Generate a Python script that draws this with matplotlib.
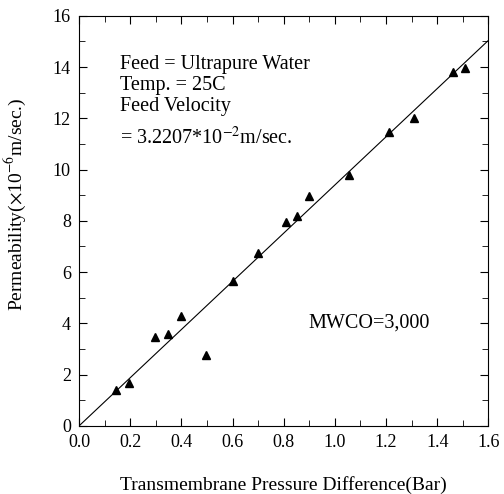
import numpy as np
import matplotlib
matplotlib.use("Agg")
import matplotlib.pyplot as plt
from matplotlib.ticker import MultipleLocator

plt.rcParams['font.family'] = ['Liberation Serif', 'DejaVu Serif']
plt.rcParams['mathtext.fontset'] = 'stix'

# ----------------------------
# data
# ----------------------------
pressure = [0.145, 0.195, 0.297, 0.347, 0.40, 0.495, 0.60, 0.70,
            0.81, 0.85, 0.90, 1.055, 1.21, 1.31, 1.46, 1.51]
permeability = [1.41, 1.69, 3.45, 3.59, 4.27, 2.75, 5.65, 6.73,
                7.94, 8.2, 8.95, 9.8, 11.47, 12.0, 13.8, 13.95]
fit_slope = 9.4
fit_x = [0.0, 1.6]

fig = plt.figure(figsize=(5.04, 4.94), dpi=100)
ax = fig.add_axes([0.157, 0.138, 0.812, 0.83])

ax.plot(pressure, permeability, linestyle='none', marker='^', color='black', markersize=6)
ax.plot(fit_x, [fit_slope * v for v in fit_x], color='black', linewidth=0.8)

ax.set_xlim(0, 1.6)
ax.set_ylim(0, 16)
ax.xaxis.set_minor_locator(MultipleLocator(0.1))
ax.yaxis.set_major_locator(MultipleLocator(2))
ax.yaxis.set_minor_locator(MultipleLocator(1))
xt = np.arange(0, 1.61, 0.2)
ax.set_xticks(xt)
ax.set_xticklabels([f"{v:.1f}" for v in xt])
ax.tick_params(which='both', direction='in', top=True, right=True, labelsize=13)
ax.tick_params(which='major', length=6)
ax.tick_params(which='minor', length=4)
ax.tick_params(axis='x', pad=6)
ax.tick_params(axis='y', pad=6)

ax.set_xlabel("Transmembrane Pressure Difference(Bar)", fontsize=14, labelpad=18)
ax.set_ylabel(r"Permeability($\times$10$^{-6}$m/sec.)", fontsize=14)
ax.yaxis.set_label_coords(-0.125, 0.54)

ax.text(0.1, 0.905, "Feed = Ultrapure Water\nTemp. = 25C\nFeed Velocity",
        transform=ax.transAxes, fontsize=14.5, va='top', linespacing=1.15)
ax.text(0.1, 0.73, r"= 3.2207*10$^{-2}$m/sec.", transform=ax.transAxes, fontsize=14.5, va='top')
ax.text(0.56, 0.24, "MWCO=3,000", transform=ax.transAxes, fontsize=14.5)

plt.savefig("out.png", dpi=100)
plt.close()
